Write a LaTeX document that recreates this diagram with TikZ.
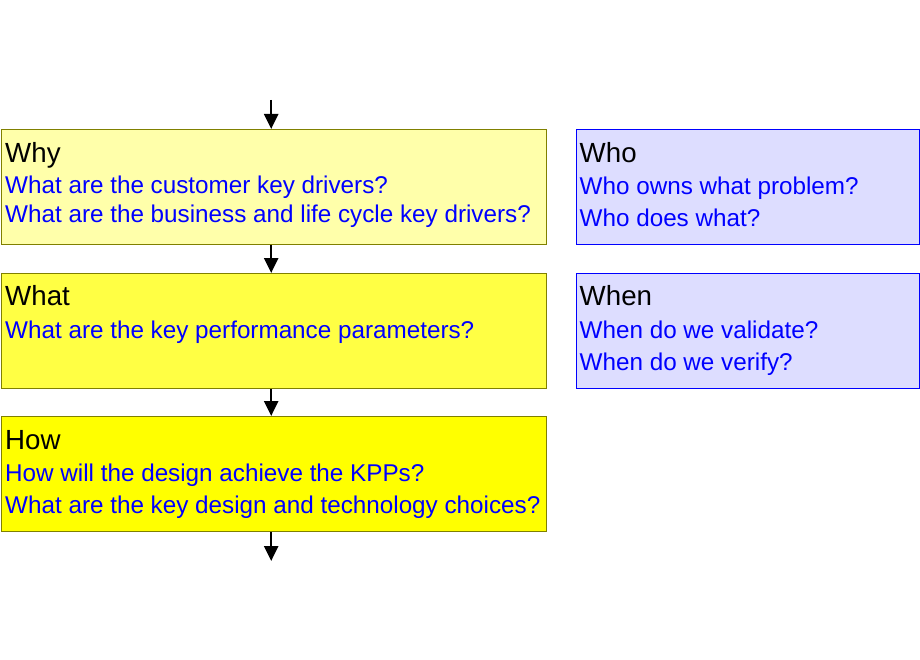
\documentclass[tikz,border=0pt]{standalone}
\usepackage{fontspec}
\setmainfont{Liberation Sans}
\usetikzlibrary{arrows.meta}
\definecolor{olivebd}{RGB}{128,128,0}
\definecolor{why}{RGB}{255,255,170}
\definecolor{whatc}{RGB}{255,255,68}
\definecolor{howc}{RGB}{255,255,0}
\definecolor{wbox}{RGB}{221,221,255}
\definecolor{qblue}{RGB}{0,0,255}
\begin{document}
\begin{tikzpicture}[x=1pt,y=-1pt,
  ybox/.style={draw=olivebd,line width=1pt,anchor=north west,minimum width=545pt,minimum height=115pt,inner sep=0pt},
  bbox/.style={draw=qblue,line width=1pt,fill=wbox,anchor=north west,minimum width=343pt,minimum height=115pt,inner sep=0pt},
  ttl/.style={anchor=base west,inner sep=0pt,font=\fontsize{27.7}{30}\selectfont},
  qst/.style={anchor=base west,inner sep=0pt,text=qblue,font=\fontsize{24.25}{27}\selectfont},
  flow/.style={line width=2.5pt,-{Triangle[width=14pt,length=15pt]}}]
\useasboundingbox (0,0) rectangle (920,660);
\node[ybox,fill=why] (why) at (1,129) {};
\node[ybox,fill=whatc] (what) at (1,273) {};
\node[ybox,fill=howc] (how) at (1,416) {};
\node[bbox] (who) at (576,129) {};
\node[bbox] (when) at (576,273) {};
\node[ttl] (t1) at (5,162.7) {Why};
\node[qst] (q11) at (5,194) {What are the customer key drivers?};
\node[qst] (q12) at (5,222.7) {What are the business and life cycle key drivers?};
\node[ttl] (t2) at (5,305.7) {What};
\node[qst] (q21) at (5,338) {What are the key performance parameters?};
\node[ttl] (t3) at (5,449.5) {How};
\node[qst] (q31) at (5,481.5) {How will the design achieve the KPPs?};
\node[qst] (q32) at (5,513.5) {What are the key design and technology choices?};
\node[ttl] (t4) at (579.5,162.7) {Who};
\node[qst] (q41) at (579.5,194.2) {Who owns what problem?};
\node[qst] (q42) at (579.5,226.5) {Who does what?};
\node[ttl] (t5) at (579.5,305.7) {When};
\node[qst] (q51) at (579.5,338) {When do we validate?};
\node[qst] (q52) at (579.5,370) {When do we verify?};
\coordinate (top) at (271.2,100);
\coordinate (bot) at (271.2,561);
\draw[flow] (top) -- (top |- why.north);
\draw[flow] (top |- why.south) -- (top |- what.north);
\draw[flow] (top |- what.south) -- (top |- how.north);
\draw[flow] (top |- how.south) -- (bot);
\end{tikzpicture}
\end{document}
